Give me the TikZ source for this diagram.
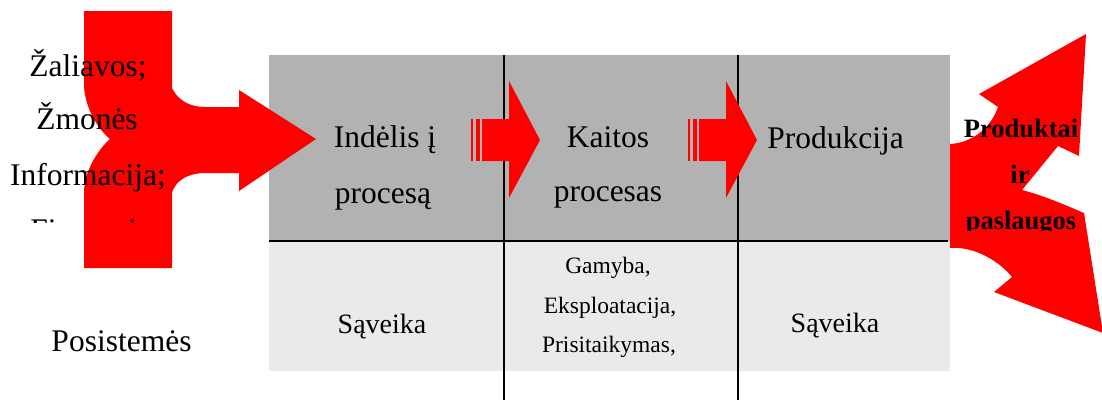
\documentclass[tikz,border=0pt]{standalone}
\usepackage{fontspec}
\setmainfont{Liberation Serif}
\definecolor{darkcell}{RGB}{178,178,178}
\definecolor{lightcell}{RGB}{234,234,234}
\definecolor{arrowred}{RGB}{255,0,0}
\begin{document}
\begin{tikzpicture}[x=1pt,y=-1pt,
  txt/.style={inner sep=0pt, anchor=base, font=\fontsize{31.5}{31.5}\selectfont},
  midtxt/.style={inner sep=0pt, anchor=base, font=\fontsize{28}{28}\selectfont},
  smalltxt/.style={inner sep=0pt, anchor=base, font=\fontsize{23.5}{23.5}\selectfont},
  boldtxt/.style={inner sep=0pt, anchor=base, font=\fontsize{26.5}{26.5}\selectfont\bfseries},
  gridline/.style={line width=2pt, black},
  striparrow/.pic={
    \fill[arrowred] (0,-21) rectangle (2.3,21);
    \fill[arrowred] (5,-21) rectangle (9.3,21);
    \fill[arrowred] (11,-21) -- (38,-21) -- (38,-59) -- (69,0) -- (38,58) -- (38,21) -- (11,21) -- cycle;
  }]
\useasboundingbox (0,0) rectangle (1102,400);
% table cells
\fill[darkcell] (269,55) rectangle (950,241);
\fill[lightcell] (269,241) rectangle (950,371);
\draw[gridline] (269,241) -- (948,241);
\draw[gridline] (503.5,55) -- (503.5,400);
\draw[gridline] (737.7,55) -- (737.7,400);
% small striped arrows
\pic at (471,140) {striparrow};
\pic at (688,140) {striparrow};
% left input arrow
\fill[arrowred] (84,11) -- (172,11) -- (172,88)
  .. controls (180,104) and (195,107) .. (205,107) -- (239,107) -- (239,90)
  -- (316,139) -- (239,191) -- (239,173) -- (205,173)
  .. controls (192,173) and (176,178) .. (172,193) -- (172,268) -- (84,268) -- (84,190)
  .. controls (86,168) and (98,150) .. (110,139)
  .. controls (98,129) and (86,110) .. (84,87) -- cycle;
% right output arrows
\fill[arrowred] (950,144)
  .. controls (970,143) and (990,130) .. (998,107) -- (979,94) -- (1086,34)
  -- (1079,156) -- (1058,146) -- (1022,190)
  .. controls (1045,196) and (1065,205) .. (1084,213) -- (1103,333)
  -- (994,292) -- (1012,277)
  .. controls (1000,262) and (975,246) .. (950,248) -- cycle;
% left texts
\node[txt] (zal) at (88,76) {Žaliavos;};
\node[txt] (zmo) at (87,129) {Žmonės};
\node[txt] (inf) at (88,185) {Informacija;};
\begin{scope}
  \clip (0,0) rectangle (260,222);
  \node[txt] (fin) at (88,240) {Finansai;};
\end{scope}
\node[txt] (pos) at (121.5,351) {Posistemės};
% table texts
\node[txt] (ind1) at (385,147) {Indėlis į};
\node[txt] (ind2) at (383,203) {procesą};
\node[txt] (kai1) at (608,147) {Kaitos};
\node[txt] (kai2) at (608,201) {procesas};
\node[txt] (prod) at (835.5,148) {Produkcija};
\node[midtxt] (sav1) at (382,333) {Sąveika};
\node[midtxt] (sav2) at (835,332) {Sąveika};
\node[smalltxt] (gam) at (608,273) {Gamyba,};
\node[smalltxt] (eks) at (610,313) {Eksploatacija,};
\node[smalltxt] (pri) at (609,352) {Prisitaikymas,};
% output texts
\node[boldtxt] (out1) at (1021,137) {Produktai};
\node[boldtxt] (out2) at (1020,183) {ir};
\begin{scope}
  \clip (940,190) rectangle (1102,230);
  \node[boldtxt] (out3) at (1021,229.5) {paslaugos};
\end{scope}
\end{tikzpicture}
\end{document}
